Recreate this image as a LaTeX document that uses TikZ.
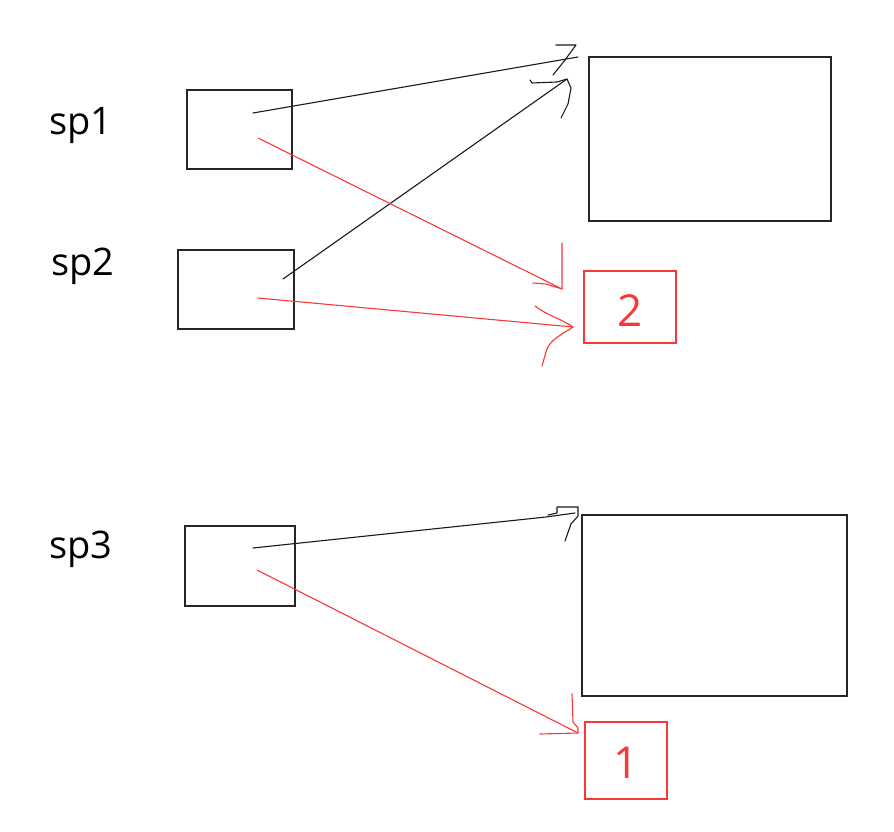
\documentclass[tikz,border=0pt]{standalone}
\usepackage{fontspec}
\setmainfont{Open Sans}
\definecolor{pen}{RGB}{250,55,55}
\begin{document}
\begin{tikzpicture}[x=1pt,y=-1pt,
  box/.style={draw=black!85,line width=1.3pt},
  redbox/.style={draw=pen,line width=1.3pt},
  lbl/.style={font=\fontsize{38}{42}\selectfont,text=black},
  num/.style={font=\fontsize{44}{48}\selectfont,text=pen},
  ink/.style={line width=1.1pt,black!90,line cap=round,line join=round},
  redink/.style={line width=1.1pt,pen,line cap=round,line join=round}]
\useasboundingbox (0,0) rectangle (894,832);
% boxes
\node[box,minimum width=105pt,minimum height=79pt] (b1) at (239.5,129.5) {};
\node[box,minimum width=116pt,minimum height=79pt] (b2) at (236,289.5) {};
\node[box,minimum width=110pt,minimum height=80pt] (b3) at (240,566) {};
\node[box,minimum width=242pt,minimum height=164pt] (B1) at (710,139) {};
\node[box,minimum width=265pt,minimum height=181pt] (B2) at (714.5,605.5) {};
\node[redbox,minimum width=92pt,minimum height=72pt] (r2) at (630,307) {};
\node[num] (n2) at (630,311) {2};
\node[redbox,minimum width=82pt,minimum height=77pt] (r1) at (626,760.5) {};
\node[num] (n1) at (626,763) {1};
% labels
\node[lbl] (sp1) at (81,126) {sp1};
\node[lbl] (sp2) at (83,266) {sp2};
\node[lbl] (sp3) at (81,549) {sp3};
% connector ends
\coordinate (s1a) at (253,113);
\coordinate (s1b) at (258,138);
\coordinate (s2a) at (283,279);
\coordinate (s2b) at (258,298);
\coordinate (s3a) at (253,548);
\coordinate (s3b) at (257,570);
\coordinate (t1) at (578,57);
\coordinate (t2) at (567,79);
\coordinate (t3) at (562,289);
\coordinate (t4) at (573,327);
\coordinate (t6) at (578,733);
% black arrows
\draw[ink] (s1a) -- (t1);
\draw[ink] (556,45) -- (576,45) -- (565,60) -- (553,75);
\draw[ink] (s2a) -- (t2);
\draw[ink] (530,80) -- (532,83) -- (557,82) -- (t2) -- (571,88) -- (568,104) -- (561,118);
\draw[ink] (s3a) -- (546,517) -- (575,513);
\draw[ink] (548,515) -- (557,513) -- (557,507) -- (578,507) -- (578,516) -- (571,524) -- (565,541);
% red arrows
\draw[redink] (s1b) -- (t3);
\draw[redink] (562,243) -- (t3) -- (546,284) -- (533,283);
\draw[redink] (s2b) -- (t4);
\draw[redink] (535,306) .. controls (548,316) and (560,318) .. (t4) .. controls (566,332) and (548,340) .. (546,352) -- (542,366);
\draw[redink] (s3b) -- (t6);
\draw[redink] (572,694) -- (573,722) -- (578,728) -- (t6) -- (540,734);
\end{tikzpicture}
\end{document}
